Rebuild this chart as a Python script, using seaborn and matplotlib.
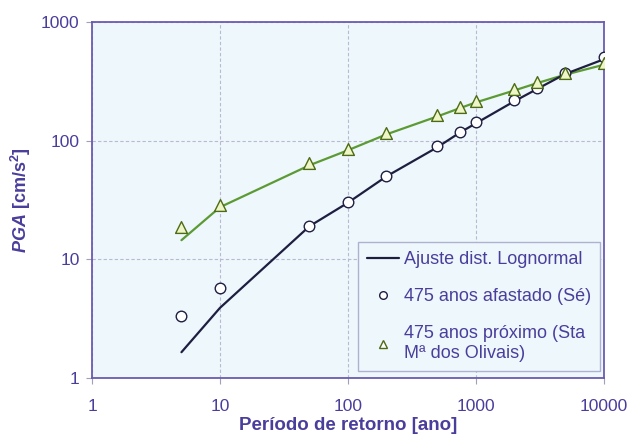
import matplotlib
matplotlib.use("Agg")
import matplotlib.pyplot as plt
import seaborn as sns
import pandas as pd
from matplotlib.lines import Line2D

# return periods [ano]
periods = [5, 10, 50, 100, 200, 500, 750, 1000, 2000, 3000, 5000, 10000]

# 475 anos afastado (Se)
pga_se = [3.3, 5.7, 19.1, 30.4, 50.3, 90, 118, 143, 220, 277, 371, 505]
fit_se = [1.65, 3.9, 19, 30, 50, 88, 117, 140, 215, 272, 365, 485]

# 475 anos proximo (Sta Ma dos Olivais)
pga_ol = [18.7, 28.7, 64.7, 85, 116, 164, 192, 216, 272, 312, 371, 451]
fit_ol = [14.5, 27.5, 62, 83, 113, 160, 188, 210, 265, 305, 360, 436]

purple = "#4a3e9c"
navy = "#1e1e40"
green = "#5c9a34"
olive = "#4d6b14"

sns.set_theme(style="whitegrid")
plt.rcParams["font.family"] = ["Liberation Sans", "DejaVu Sans"]
plt.rcParams["mathtext.fontset"] = "custom"
plt.rcParams["mathtext.it"] = "Liberation Sans:italic:bold"
plt.rcParams["mathtext.rm"] = "Liberation Sans:bold"
plt.rcParams["mathtext.bf"] = "Liberation Sans:bold"

df = pd.DataFrame({
    "periodo": periods,
    "pga_se": pga_se,
    "fit_se": fit_se,
    "pga_ol": pga_ol,
    "fit_ol": fit_ol,
})

fig = plt.figure(figsize=(6.29, 4.37), dpi=100)
ax = fig.add_axes([0.1463, 0.135, 0.8137, 0.8147])
ax.set_facecolor("#eef7fc")

sns.lineplot(data=df, x="periodo", y="fit_ol", color=green, lw=1.6, ax=ax)
sns.lineplot(data=df, x="periodo", y="fit_se", color=navy, lw=1.6, ax=ax)
sns.scatterplot(data=df, x="periodo", y="pga_se", marker="o", s=58,
                facecolor="white", edgecolor=navy, linewidth=1.0, ax=ax,
                zorder=3)
sns.scatterplot(data=df, x="periodo", y="pga_ol", marker="^", s=72,
                facecolor="#eef6c8", edgecolor=olive, linewidth=1.0, ax=ax,
                zorder=4)

ax.set_xscale("log")
ax.set_yscale("log")
ax.set_xlim(1, 10000)
ax.set_ylim(1, 1000)
ax.set_xticks([1, 10, 100, 1000, 10000])
ax.set_xticklabels(["1", "10", "100", "1000", "10000"])
ax.set_yticks([1, 10, 100, 1000])
ax.set_yticklabels(["1", "10", "100", "1000"])
ax.minorticks_off()

ax.grid(True, color="#b9b9d2", lw=0.8, ls=(0, (3, 2)))
for s in ax.spines.values():
    s.set_color("#6a5cb0")
    s.set_linewidth(1.3)

ax.tick_params(axis="both", colors="#a0a0b8", labelcolor=purple,
               labelsize=12.5, length=4, width=0.8, direction="out", pad=5,
               bottom=True, left=True)
ax.tick_params(axis="x", pad=11)

ax.set_xlabel("Período de retorno [ano]", color=purple, fontsize=13.5,
              fontweight="bold", labelpad=2)
ax.set_ylabel(r"$PGA$ [cm/s$^2$]", color=purple,
              fontsize=13, fontweight="bold", labelpad=6)

handles = [
    Line2D([], [], color=navy, lw=1.6),
    Line2D([], [], ls="none", marker="o", ms=5.5, mfc="white", mec=navy,
           mew=1),
    Line2D([], [], ls="none", marker="^", ms=6, mfc="white", mec=olive,
           mew=1),
]
labels = ["Ajuste dist. Lognormal", "475 anos afastado (Sé)",
          "475 anos próximo (Sta\nMª dos Olivais)"]
leg = ax.legend(handles, labels, loc="lower right",
                bbox_to_anchor=(0.999, 0.01), fontsize=13,
                frameon=True, fancybox=False, edgecolor="#b0b0d0",
                facecolor="#eef7fc", framealpha=1, labelspacing=1.1,
                handlelength=1.8, handletextpad=0.25, borderpad=0.5,
                borderaxespad=0.2)
for t in leg.get_texts():
    t.set_color(purple)

fig.savefig("out.png", dpi=100)
